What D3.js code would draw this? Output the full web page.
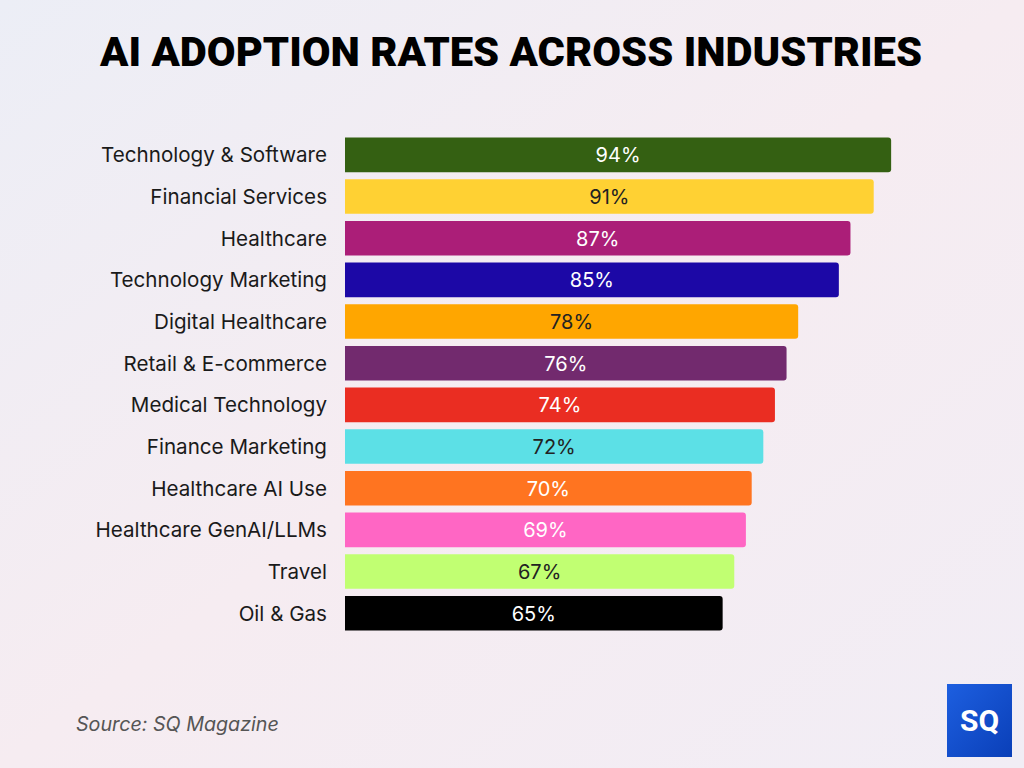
<!DOCTYPE html>
<html>
<head>
<meta charset="utf-8">
<script src="https://cdn.jsdelivr.net/npm/d3@7"></script>
<style>
  html, body { margin: 0; padding: 0; }
  body { width: 1024px; height: 768px; overflow: hidden; }
</style>
</head>
<body>
<svg id="chart"></svg>
<script>
// chart data
const industries = ["Technology & Software", "Financial Services", "Healthcare", "Technology Marketing",
  "Digital Healthcare", "Retail & E-commerce", "Medical Technology", "Finance Marketing",
  "Healthcare AI Use", "Healthcare GenAI/LLMs", "Travel", "Oil & Gas"];
const adoption = [94, 91, 87, 85, 78, 76, 74, 72, 70, 69, 67, 65];
const barColors = ["#346012", "#ffd133", "#ab1e78", "#1c08a6", "#ffa600", "#722a6e",
  "#ea2d22", "#5ce0e6", "#ff7420", "#ff66c4", "#c1ff72", "#000000"];
const labelColors = ["#fff", "#222", "#fff", "#fff", "#222", "#fff",
  "#fff", "#222", "#fff", "#fff", "#222", "#fff"];

const width = 1024, height = 768;

const svg = d3.select("#chart")
    .attr("width", width)
    .attr("height", height);

// background gradient
const defs = svg.append("defs");
const bg = defs.append("linearGradient").attr("id", "bg")
    .attr("x1", "0%").attr("y1", "0%").attr("x2", "100%").attr("y2", "100%");
bg.append("stop").attr("offset", "0%").attr("stop-color", "#eceef6");
bg.append("stop").attr("offset", "50%").attr("stop-color", "#f6ecf1");
bg.append("stop").attr("offset", "100%").attr("stop-color", "#f1edf5");

svg.append("rect").attr("width", width).attr("height", height).attr("fill", "url(#bg)");

// title
svg.append("text")
    .attr("x", 511)
    .attr("y", 66)
    .attr("text-anchor", "middle")
    .attr("textLength", 822)
    .attr("lengthAdjust", "spacingAndGlyphs")
    .style("font-family", "Roboto, 'DejaVu Sans', sans-serif")
    .style("font-size", "40px")
    .style("font-weight", 900)
    .attr("fill", "#000")
    .text("AI ADOPTION RATES ACROSS INDUSTRIES");

// scales
const x = d3.scaleLinear()
    .domain([0, 100])
    .range([345, 345 + 581]);

const y = d3.scaleBand()
    .domain(industries)
    .range([134, 634])
    .paddingInner(0.17)
    .paddingOuter(0.085);

// bars with rounded right corners
function barPath(x0, y0, w, h, r) {
  return "M" + x0 + "," + y0 +
    "H" + (x0 + w - r) +
    "Q" + (x0 + w) + "," + y0 + " " + (x0 + w) + "," + (y0 + r) +
    "V" + (y0 + h - r) +
    "Q" + (x0 + w) + "," + (y0 + h) + " " + (x0 + w - r) + "," + (y0 + h) +
    "H" + x0 + "Z";
}

const rows = industries.map((name, i) => ({name: name, value: adoption[i], i: i}));

svg.append("g")
  .selectAll("path")
  .data(rows)
  .join("path")
    .attr("d", d => barPath(x(0), y(d.name), x(d.value) - x(0), y.bandwidth(), 3))
    .attr("fill", d => barColors[d.i]);

// value labels
svg.append("g")
  .selectAll("text")
  .data(rows)
  .join("text")
    .attr("x", d => (x(0) + x(d.value)) / 2)
    .attr("y", d => y(d.name) + y.bandwidth() / 2 + 2)
    .attr("text-anchor", "middle")
    .attr("dominant-baseline", "middle")
    .style("font-family", "Inter, 'Noto Sans', sans-serif")
    .style("font-size", "20px")
    .attr("fill", d => labelColors[d.i])
    .text(d => d.value + "%");

// category labels
svg.append("g")
  .selectAll("text")
  .data(rows)
  .join("text")
    .attr("x", 327)
    .attr("y", d => y(d.name) + y.bandwidth() / 2 + 2)
    .attr("text-anchor", "end")
    .attr("dominant-baseline", "middle")
    .style("font-family", "Inter, 'Noto Sans', sans-serif")
    .style("font-size", "20.6px")
    .attr("fill", "#1a1a1a")
    .text(d => d.name);

// source
svg.append("text")
    .attr("x", 76)
    .attr("y", 731)
    .style("font-family", "Inter, 'Noto Sans', sans-serif")
    .style("font-size", "19.7px")
    .style("font-style", "italic")
    .attr("fill", "#555")
    .text("Source: SQ Magazine");

// logo
const lg = defs.append("linearGradient").attr("id", "logo")
    .attr("x1", "0%").attr("y1", "0%").attr("x2", "100%").attr("y2", "100%");
lg.append("stop").attr("offset", "0%").attr("stop-color", "#1d5fe0");
lg.append("stop").attr("offset", "100%").attr("stop-color", "#0a3fb8");

svg.append("rect")
    .attr("x", 947).attr("y", 684)
    .attr("width", 65).attr("height", 73)
    .attr("fill", "url(#logo)");

svg.append("text")
    .attr("x", 979.5).attr("y", 731)
    .attr("text-anchor", "middle")
    .style("font-family", "Roboto, sans-serif")
    .style("font-size", "30px")
    .style("font-weight", 700)
    .attr("fill", "#fff")
    .text("SQ");
</script>
</body>
</html>
